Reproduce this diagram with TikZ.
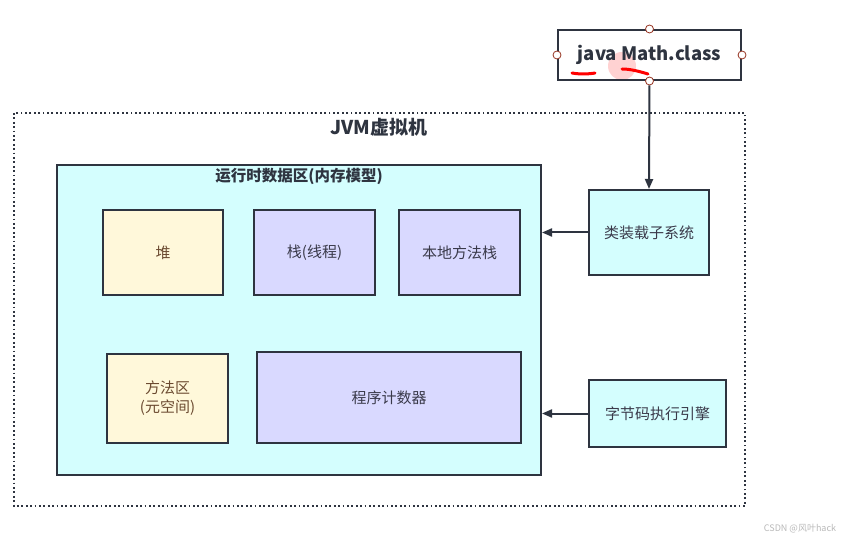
\documentclass[tikz,border=0pt]{standalone}
\usepackage{fontspec}
\setmainfont{Noto Sans CJK SC}
\usetikzlibrary{arrows.meta}
\definecolor{cyanfill}{HTML}{D4FEFE}
\definecolor{yelfill}{HTML}{FFF8DA}
\definecolor{purfill}{HTML}{D9D9FF}
\definecolor{edge}{HTML}{2E3440}
\definecolor{txt}{HTML}{3A3A4A}
\definecolor{brown}{HTML}{6B4A30}
\tikzset{
  x=1pt,y=-1pt,
  box/.style={draw=edge,line width=2pt,inner sep=0pt,font=\fontsize{15}{19}\selectfont,text=txt,align=center},
  handle/.style={circle,draw=brown!70!red,fill=white,line width=0.8pt,inner sep=0pt,minimum size=8pt},
  conn/.style={draw=edge,line width=2pt,-{Triangle[length=10pt,width=8pt]}},
}
\begin{document}
\begin{tikzpicture}
\useasboundingbox (0,0) rectangle (849,545);
\fill[white] (0,0) rectangle (849,545);
% JVM dotted frame
\draw[edge,line width=1.8pt,dash pattern=on 1.8pt off 2.6pt] (14,113) rectangle (745,506);
\node[font=\bfseries\fontsize{19}{22}\selectfont,text=edge] (jvm) at (379,127) {JVM虚拟机};
% runtime area
\node[box,fill=cyanfill,minimum width=484pt,minimum height=310pt] (rt) at (299,320) {};
\node[font=\bfseries\fontsize{15.5}{18}\selectfont,text=edge] (rtt) at (299,176) {运行时数据区(内存模型)};
% inner boxes
\node[box,fill=yelfill,text=brown,minimum width=120pt,minimum height=85pt] (heap) at (163,252.5) {堆};
\node[box,fill=purfill,minimum width=121pt,minimum height=85pt] (stack) at (314.5,252.5) {栈(线程)};
\node[box,fill=purfill,minimum width=121pt,minimum height=85pt] (native) at (459.5,252.5) {本地方法栈};
\node[box,fill=yelfill,text=brown,minimum width=121pt,minimum height=89pt] (method) at (167.5,398.5) {方法区\\(元空间)};
\node[box,fill=purfill,minimum width=264pt,minimum height=91pt] (pc) at (389,397.5) {程序计数器};
% right side
\node[box,fill=cyanfill,minimum width=120pt,minimum height=85pt] (loader) at (649,232.5) {类装载子系统};
\node[box,fill=cyanfill,minimum width=137pt,minimum height=67pt] (engine) at (657.5,413.5) {字节码执行引擎};
% class file
\fill[red!25,opacity=0.7] (622,66) circle (14pt);
\node[box,fill=none,minimum width=183pt,minimum height=50pt,font=\bfseries\fontsize{18.5}{22}\selectfont,text=edge] (cls) at (649.5,55) {java Math.class};
\draw[red,line width=3pt,line cap=round] (572,73) .. controls (580,74.5) and (590,74) .. (595,73);
\draw[red,line width=3pt,line cap=round] (622,69) .. controls (630,69) and (638,71) .. (648,74);
\node[handle] (h1) at (cls.north) {};
\node[handle] (h2) at (cls.west) {};
\node[handle] (h3) at (cls.east) {};
\node[handle] (h4) at (cls.south) {};
% connectors
\draw[conn] (h4) -- (loader.north);
\draw[conn] (loader.west) -- (rt.east |- loader.west);
\draw[conn] (engine.west) -- (rt.east |- engine.west);
% watermark
\node[text=gray!55,font=\fontsize{9}{11}\selectfont] (wm) at (800,529) {CSDN @风叶hack};
\end{tikzpicture}
\end{document}
